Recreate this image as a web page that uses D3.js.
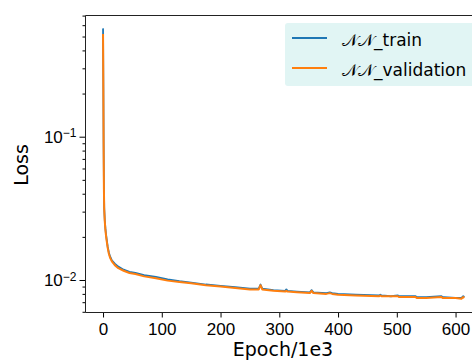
<!DOCTYPE html>
<html>
<head>
<meta charset="utf-8">
<script src="https://cdn.jsdelivr.net/npm/d3@7"></script>
<style>
  body { margin: 0; background: #fff; }
  svg { display: block; font-family: "DejaVu Sans", sans-serif; }
</style>
</head>
<body>
<svg id="chart"></svg>
<script>
// epochs in units of 1e3
const epochs = [0, 0.5, 1, 1.5, 2, 3, 4, 5, 6, 8, 10, 12, 15, 20, 26, 35, 45, 55, 70, 90,
  110, 130, 150, 175, 200, 225, 250, 265, 268, 271, 290, 310, 312, 314, 330, 352, 355, 358,
  380, 386, 390, 400, 430, 470, 472, 474, 490, 502, 504, 520, 532, 534, 550, 576, 578, 580,
  600, 610, 613, 615];

const trainLoss = [0.57, 0.25, 0.09, 0.045, 0.032, 0.026, 0.023, 0.021, 0.0195, 0.017, 0.0155, 0.0146, 0.0137, 0.0130, 0.0124, 0.0118, 0.0114, 0.0112, 0.0108, 0.0105,
  0.0101, 0.0098, 0.0096, 0.0093, 0.0091, 0.0089, 0.0087, 0.0087, 0.0093, 0.0087, 0.0085, 0.0084, 0.0086, 0.0084, 0.0083, 0.0082, 0.0085, 0.0082,
  0.0081, 0.0082, 0.0081, 0.0080, 0.0079, 0.0078, 0.0079, 0.0078, 0.0077, 0.0078, 0.0077, 0.0077, 0.0077, 0.0076, 0.0076, 0.0077, 0.0076, 0.0076,
  0.0075, 0.0075, 0.0077, 0.0076];

const valLoss = [0.52, 0.22, 0.085, 0.043, 0.031, 0.0255, 0.0225, 0.0205, 0.019, 0.0167, 0.0152, 0.0143, 0.0135, 0.0127, 0.0121, 0.0116, 0.0112, 0.0110, 0.0106, 0.0103,
  0.0099, 0.0097, 0.0095, 0.0092, 0.0090, 0.0088, 0.0086, 0.0086, 0.0092, 0.0086, 0.0084, 0.0083, 0.0084, 0.0083, 0.0082, 0.0081, 0.0084, 0.0081,
  0.0080, 0.0081, 0.0080, 0.0079, 0.0078, 0.0077, 0.0078, 0.0077, 0.0077, 0.0077, 0.0076, 0.0076, 0.0076, 0.0075, 0.0075, 0.0076, 0.0075, 0.0075,
  0.0075, 0.0074, 0.0076, 0.0075];

const xTicks = [0, 100, 200, 300, 400, 500, 600];
const yMajor = [-2, -1];
const seriesNames = ["\u{1D4A9}\u{1D4A9}_train", "\u{1D4A9}\u{1D4A9}_validation"];
const seriesColors = ["#1f77b4", "#ff7f0e"];

const width = 472;
const height = 361;
const margin = { top: 15, right: -10, bottom: 49, left: 86 };
const plotW = width - margin.left - margin.right;
const plotH = height - margin.top - margin.bottom;

const svg = d3.select("#chart").attr("width", width).attr("height", height);

const x = d3.scaleLinear()
  .domain([-29, 645])
  .range([margin.left, width - margin.right]);

const y = d3.scaleLog()
  .domain([Math.pow(10, -2.2233), Math.pow(10, -0.1508)])
  .range([height - margin.bottom, margin.top]);

svg.append("clipPath").attr("id", "clip")
  .append("rect")
  .attr("x", margin.left).attr("y", margin.top)
  .attr("width", plotW).attr("height", plotH);

const line = d3.line()
  .x((d) => x(d[0]))
  .y((d) => y(d[1]));

[trainLoss, valLoss].forEach((vals, i) => {
  svg.append("path")
    .datum(epochs.map((e, j) => [e, vals[j]]))
    .attr("clip-path", "url(#clip)")
    .attr("fill", "none")
    .attr("stroke", seriesColors[i])
    .attr("stroke-width", i === 0 ? 1.8 : 2)
    .attr("stroke-linejoin", "round")
    .attr("d", line);
});

// x axis
const xAxis = svg.append("g")
  .attr("transform", `translate(0,${height - margin.bottom + 0.5})`)
  .call(d3.axisBottom(x).tickValues(xTicks).tickSize(5).tickPadding(5).tickFormat(d3.format("d")));
xAxis.select(".domain").remove();
xAxis.selectAll("text").style("font-size", "17px").attr("fill", "#000");

// y axis minor ticks
const minorVals = [];
[-3, -2, -1].forEach((p) => {
  for (let k = 2; k <= 9; k++) minorVals.push(k * Math.pow(10, p));
});
const yDom = y.domain();
const yMinor = svg.append("g")
  .attr("transform", `translate(${margin.left - 0.5},0)`)
  .call(d3.axisLeft(y).tickValues(minorVals.filter((v) => v >= yDom[0] && v <= yDom[1])).tickSize(3).tickFormat(""));
yMinor.select(".domain").remove();

const yAxis = svg.append("g")
  .attr("transform", `translate(${margin.left - 0.5},0)`)
  .call(d3.axisLeft(y).tickValues(yMajor.map((p) => Math.pow(10, p))).tickSize(6).tickPadding(4).tickFormat(""));
yAxis.select(".domain").remove();
yAxis.selectAll(".tick").each(function (d) {
  const t = d3.select(this).append("text")
    .attr("x", -9).attr("dy", "0.32em")
    .attr("text-anchor", "end")
    .attr("fill", "#000")
    .style("font-size", "17px");
  t.append("tspan").text("10");
  t.append("tspan").attr("dy", "-0.45em").style("font-size", "12px").text("\u2212" + Math.round(-Math.log10(d)));
});

// spines
svg.append("path")
  .attr("d", `M${width + 5},${margin.top + 0.5}H${margin.left - 0.5}V${height - margin.bottom + 0.5}H${width + 5}`)
  .attr("fill", "none")
  .attr("stroke", "#222")
  .attr("stroke-width", 1);

// labels
svg.append("text")
  .attr("x", 283).attr("y", 356)
  .attr("text-anchor", "middle")
  .style("font-size", "19px")
  .text("Epoch/1e3");

svg.append("text")
  .attr("transform", "translate(28,165) rotate(-90)")
  .attr("text-anchor", "middle")
  .style("font-size", "19px")
  .text("Loss");

// legend
const legend = svg.append("g");
legend.append("rect")
  .attr("x", 285).attr("y", 23)
  .attr("width", 200).attr("height", 63)
  .attr("rx", 3)
  .attr("fill", "#e1f5f4");
seriesNames.forEach((name, i) => {
  const ly = 38 + i * 30;
  legend.append("line")
    .attr("x1", 292).attr("x2", 327)
    .attr("y1", ly).attr("y2", ly)
    .attr("stroke", seriesColors[i])
    .attr("stroke-width", 2);
  legend.append("text")
    .attr("x", 342).attr("y", ly + 8)
    .style("font-size", "17px")
    .text(name);
});
</script>
</body>
</html>
